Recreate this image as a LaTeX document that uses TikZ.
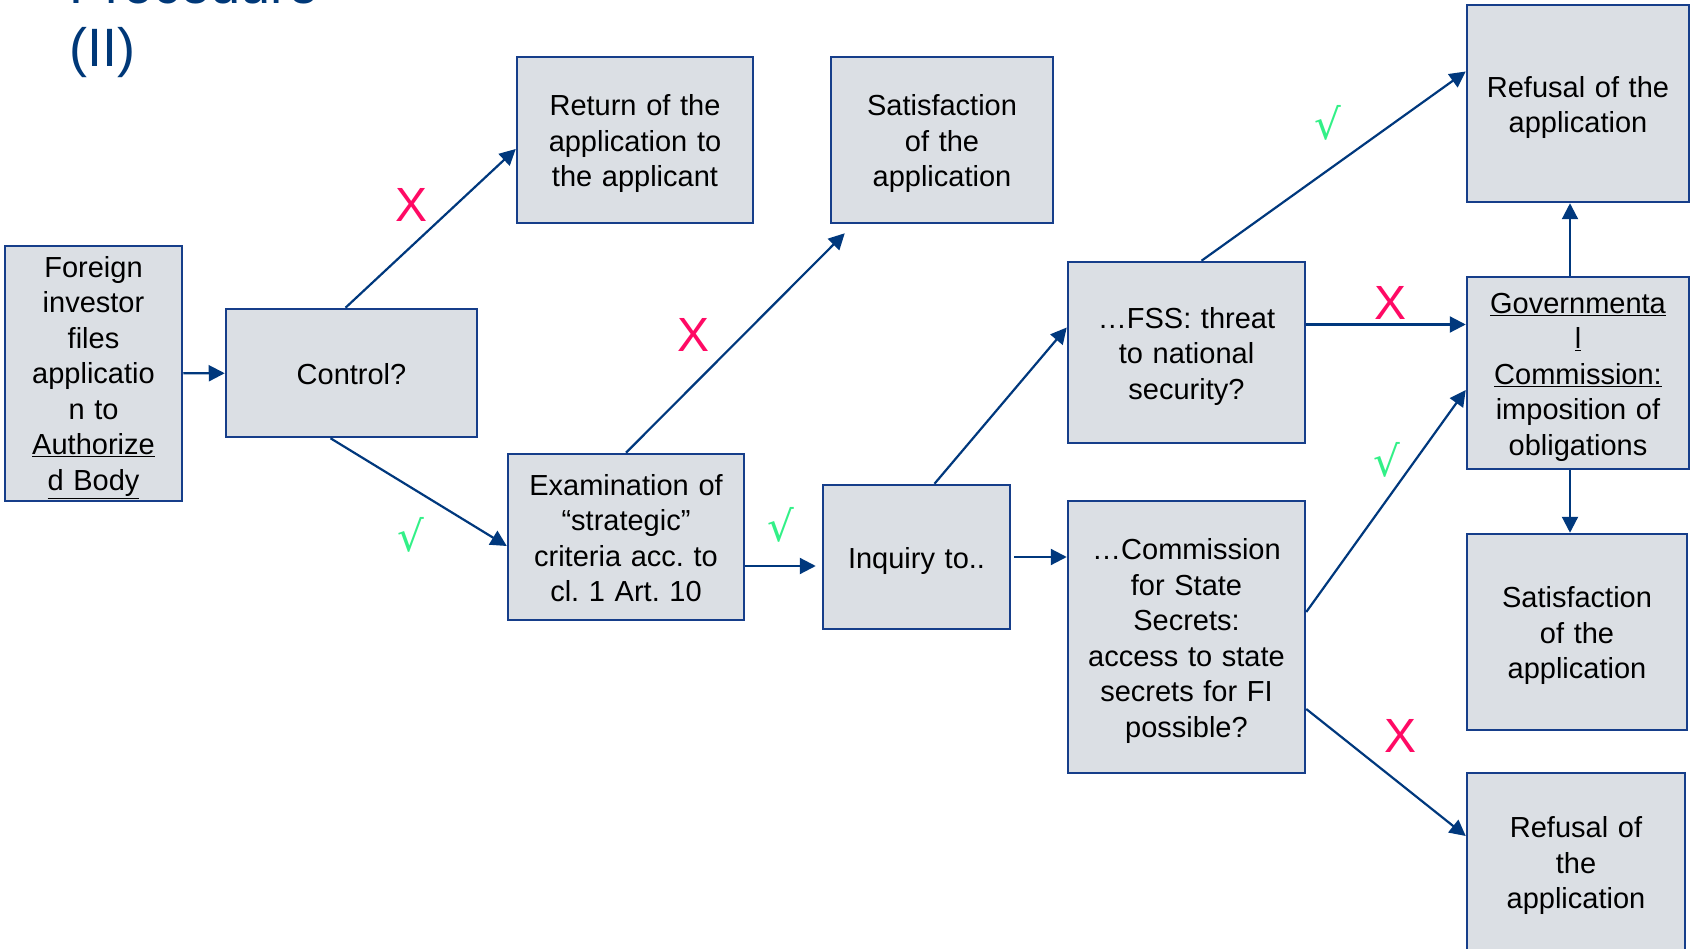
\documentclass[tikz,border=0pt]{standalone}
\usepackage{fontspec}
\setmainfont{Liberation Sans}
\newfontfamily\tickfont{DejaVu Sans}
\usetikzlibrary{positioning,calc,arrows.meta}

\definecolor{boxfill}{RGB}{219,223,228}
\definecolor{boxline}{RGB}{22,62,138}
\definecolor{arrowblue}{RGB}{0,56,125}
\definecolor{titleblue}{RGB}{0,56,120}
\definecolor{noRed}{RGB}{255,10,100}
\definecolor{yesGreen}{RGB}{50,240,135}

\begin{document}
\begin{tikzpicture}[x=1pt,y=-1pt,
    stage/.style 2 args={draw=boxline, fill=boxfill, line width=2.5pt, align=center, inner sep=0pt,
      minimum width=#1, text width=#1-8pt, minimum height=#2,
      font=\fontsize{29}{35.5}\selectfont\frenchspacing,
      execute at begin node={\rule{0pt}{29pt}}, execute at end node={\rule[-6pt]{0pt}{6pt}}},
    flow/.style={draw=arrowblue, line width=2.2pt, -{Triangle[length=16pt,width=16pt]}},
    nomark/.style={text=noRed, inner sep=0pt, font=\fontsize{48}{48}\selectfont},
    yesmark/.style={text=yesGreen, inner sep=0pt, font=\tickfont\fontsize{42}{42}\selectfont}]

    \useasboundingbox (0,0) rectangle (1690,949);

    % title
    \node[anchor=base west, inner sep=0pt, text=titleblue, font=\fontsize{54}{60}\selectfont] (title1) at (69,4) {Procedure};
    \node[anchor=base west, inner sep=0pt, text=titleblue, font=\fontsize{54}{60}\selectfont] (title2) at (69,67) {(II)};

    % boxes
    \node[stage={177pt}{255pt}] (foreign) at (93.5,373.5) {Foreign\\investor\\files\\applicatio\\n to\\\underline{Authorize}\\\underline{d Body}};
    \node[stage={251pt}{128pt}] (control) at (351.5,373) {Control?};
    \node[stage={236pt}{166pt}] (ret) at (635,140) {Return of the\\application to\\the applicant};
    \node[stage={222pt}{166pt}] (sattop) at (942,140) {Satisfaction\\of the\\application};
    \node[stage={236pt}{166pt}] (exam) at (626,537) {Examination of\\“strategic”\\criteria acc. to\\cl. 1 Art. 10};
    \node[stage={187pt}{144pt}] (inquiry) at (916.5,557) {Inquiry to..};
    \node[stage={237pt}{181pt}] (fss) at (1186.5,352.5) {…FSS: threat\\to national\\security?};
    \node[stage={237pt}{272pt}] (commss) at (1186.5,637) {…Commission\\for State\\Secrets:\\access to state\\secrets for FI\\possible?};
    \node[stage={222pt}{197pt}] (reftop) at (1578,103.5) {Refusal of the\\application};
    \node[stage={222pt}{192pt}] (gov) at (1578,373) {\underline{Governmenta}\\\underline{l}\\\underline{Commission:}\\imposition of\\obligations};
    \node[stage={220pt}{196pt}] (satright) at (1577,632) {Satisfaction\\of the\\application};
    \node[stage={218pt}{178pt}] (refbot) at (1576,862) {Refusal of\\the\\application};

    % arrows
    \draw[flow] (foreign) -- (control);
    \draw[flow] ([xshift=-6pt]control.north) -- ([yshift=-9pt]ret.west);
    \draw[flow] ([xshift=-21pt]control.south) -- ([yshift=-9pt]exam.west);
    \draw[flow] (exam.north) -- ([xshift=15pt,yshift=-9pt]sattop.south west);
    \coordinate (e1) at ([yshift=-29pt]exam.east);
    \draw[flow, shorten >=6pt] (e1) -- (e1 -| inquiry.west);
    \draw[flow] ([xshift=18pt]inquiry.north) -- ([yshift=25pt]fss.west);
    \draw[flow, shorten <=3pt] (inquiry.east) -- (inquiry.east -| commss.west);
    \draw[flow] ([xshift=15pt]fss.north) -- ([yshift=32pt]reftop.west);
    \coordinate (f1) at ([yshift=28pt]fss.east);
    \draw[flow] (f1) -- (f1 -| gov.west);
    \coordinate (g1) at ([xshift=-8pt]gov.north);
    \draw[flow] (g1) -- (g1 |- reftop.south);
    \coordinate (g2) at ([xshift=-8pt]gov.south);
    \draw[flow] (g2) -- (g2 |- satright.north);
    \draw[flow] ([yshift=25pt]commss.east) -- ([yshift=-17pt]gov.west);
    \draw[flow] ([yshift=-72pt]commss.east) -- ([yshift=26pt]refbot.west);

    % decisions
    \node[nomark] (no1) at (412,205) {X};
    \node[nomark] (no2) at (694,335) {X};
    \node[nomark] (no3) at (1390,303) {X};
    \node[nomark] (no4) at (1400,736) {X};
    \node[yesmark] (yes1) at (411,535) {√};
    \node[yesmark] (yes2) at (781,525) {√};
    \node[yesmark] (yes3) at (1328,123) {√};
    \node[yesmark] (yes4) at (1387,460) {√};
\end{tikzpicture}
\end{document}
